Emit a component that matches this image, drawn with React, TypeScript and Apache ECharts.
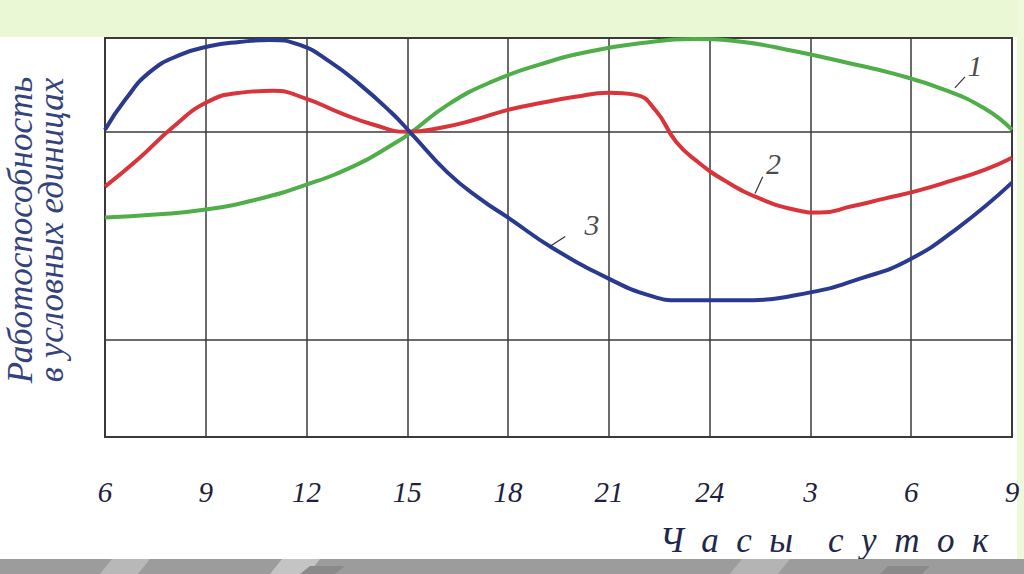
import React, { useEffect, useRef } from "react";
import * as echarts from "echarts";

// hours (6 .. 33 = 9 next day), values in conventional units
const hourTicks = [6, 9, 12, 15, 18, 21, 24, 27, 30, 33];

const curve1Green: [number, number][] = [
  [6, 2.2], [7.5, 2.23], [9, 2.28], [10.5, 2.38], [12, 2.53], [13.5, 2.73],
  [14.5, 2.92], [15.1, 3.05], [16.2, 3.33], [17.5, 3.56], [19, 3.74], [20.5, 3.87],
  [22, 3.95], [23.5, 3.99], [25, 3.96], [26.5, 3.87], [28, 3.76], [29.5, 3.64],
  [31, 3.48], [32.2, 3.29], [33, 3.08],
];

const curve2Red: [number, number][] = [
  [6, 2.51], [7, 2.79], [8, 3.1], [9, 3.35], [10, 3.45], [11, 3.47], [12, 3.39],
  [13, 3.25], [14, 3.13], [15, 3.06], [16, 3.1], [17, 3.18], [18, 3.28], [19, 3.35],
  [20, 3.41], [21, 3.45], [21.8, 3.43], [22.4, 3.27], [23, 2.96], [23.6, 2.77],
  [24.5, 2.56], [25.5, 2.39], [26.5, 2.28], [27.3, 2.25], [28.2, 2.31], [29.2, 2.39],
  [30.2, 2.47], [31.2, 2.57], [32.2, 2.68], [33, 2.8],
];

const curve3Blue: [number, number][] = [
  [6, 3.08], [6.6, 3.38], [7.34, 3.66], [8.23, 3.83], [9.13, 3.92], [10, 3.96],
  [10.9, 3.98], [11.8, 3.93], [12.7, 3.76], [13.6, 3.53], [14.5, 3.26], [15.1, 3.05],
  [16.2, 2.65], [17.2, 2.38], [18, 2.2], [19.3, 1.9], [21.1, 1.57], [22.2, 1.42],
  [23.1, 1.37], [24.9, 1.37], [27, 1.45], [28.5, 1.59], [29.9, 1.77], [31.4, 2.1],
  [33, 2.55],
];

const yGridLines = [0.97, 3.06];

// curve number labels: leader line from -> to, text at
const curveLabels: { text: string; from: [number, number]; to: [number, number]; at: [number, number] }[] = [
  { text: "1", from: [31.3, 3.5], to: [31.6, 3.61], at: [31.9, 3.72] },
  { text: "2", from: [25.35, 2.44], to: [25.58, 2.61], at: [25.9, 2.74] },
  { text: "3", from: [19.24, 1.91], to: [19.7, 2.01], at: [20.5, 2.13] },
];

const yTitle = ["Работоспособность", "в условных единицах"];
const xTitle = "Ч  а  с  ы    с  у  т  о  к";

const GREEN = "#4fae48";
const RED = "#d9343a";
const BLUE = "#2a3a8e";
const GRID = "#3a3a3a";
const SERIF = "'Liberation Serif', 'DejaVu Serif', serif";

export default function App() {
  const ref = useRef<HTMLDivElement>(null);
  useEffect(() => {
    if (!ref.current) return;
    const chart = echarts.init(ref.current, undefined, { renderer: "svg" });
    const line = (name: string, data: [number, number][], color: string) => ({
      name,
      type: "line",
      data,
      smooth: 0.5,
      symbol: "none",
      lineStyle: { color, width: 4 },
      z: 3,
    });
    chart.setOption({
      animation: false,
      backgroundColor: "#ffffff",
      grid: {
        left: 105,
        right: 12,
        top: 38,
        bottom: 137,
        show: true,
        borderColor: GRID,
        borderWidth: 2,
        backgroundColor: "transparent",
      },
      xAxis: {
        type: "value",
        min: 6,
        max: 33,
        interval: 3,
        axisLine: { show: false },
        axisTick: { show: false },
        splitLine: { show: true, lineStyle: { color: GRID, width: 1.5 } },
        axisLabel: {
          margin: 40,
          fontFamily: SERIF,
          fontStyle: "italic",
          fontSize: 29,
          color: "#1e2040",
          formatter: (v: number) => String(v > 24 ? v - 24 : v),
        },
      },
      yAxis: {
        type: "value",
        min: 0,
        max: 4,
        axisLine: { show: false },
        axisTick: { show: false },
        axisLabel: { show: false },
        splitLine: { show: false },
      },
      graphic: [
        { type: "rect", shape: { x: 0, y: 0, width: 1024, height: 37 }, style: { fill: "#ebf8d6" }, z: -1 },
        { type: "rect", shape: { x: 1017, y: 0, width: 7, height: 560 }, style: { fill: "#eef9dc" }, z: -1 },
        { type: "rect", shape: { x: 0, y: 559, width: 1024, height: 15 }, style: { fill: "#9c9c9c" }, z: 10 },
        { type: "polygon", shape: { points: [[100, 574], [112, 559], [150, 559], [138, 574]] }, style: { fill: "#b8b8b8" }, z: 11 },
        { type: "polygon", shape: { points: [[270, 574], [282, 559], [320, 559], [308, 574]] }, style: { fill: "#c4c4c4" }, z: 11 },
        { type: "polygon", shape: { points: [[300, 574], [310, 566], [345, 566], [335, 574]] }, style: { fill: "#8a8a8a" }, z: 11 },
        { type: "polygon", shape: { points: [[730, 574], [742, 559], [790, 559], [778, 574]] }, style: { fill: "#b4b4b4" }, z: 11 },
        { type: "polygon", shape: { points: [[880, 574], [888, 566], [930, 566], [922, 574]] }, style: { fill: "#8a8a8a" }, z: 11 },
        {
          type: "text",
          x: 20,
          y: 230,
          rotation: Math.PI / 2,
          style: {
            text: yTitle[0],
            font: `italic 35px ${SERIF}`,
            fill: "#34427e",
            align: "center",
            verticalAlign: "middle",
          },
        },
        {
          type: "text",
          x: 51,
          y: 230,
          rotation: Math.PI / 2,
          style: {
            text: yTitle[1],
            font: `italic 35px ${SERIF}`,
            fill: "#34427e",
            align: "center",
            verticalAlign: "middle",
          },
        },
        {
          type: "text",
          x: 824,
          y: 540,
          style: {
            text: xTitle,
            font: `italic 35px ${SERIF}`,
            fill: "#22274a",
            align: "center",
            verticalAlign: "middle",
          },
        },
      ],
      series: [
        {
          ...line("1", curve1Green, GREEN),
          markLine: {
            silent: true,
            symbol: "none",
            label: { show: false },
            lineStyle: { color: GRID, width: 1.5, type: "solid" },
            data: yGridLines.map((v) => ({ yAxis: v })),
            z: 1,
          },
        },
        line("2", curve2Red, RED),
        line("3", curve3Blue, BLUE),
        {
          name: "labels",
          type: "scatter",
          symbolSize: 0,
          data: curveLabels.map((c) => c.at),
          label: {
            show: true,
            position: "inside",
            fontFamily: SERIF,
            fontStyle: "italic",
            fontSize: 30,
            color: "#1a1a1a",
            formatter: (p: any) => curveLabels[p.dataIndex].text,
          },
          markLine: {
            silent: true,
            symbol: "none",
            label: { show: false },
            lineStyle: { color: "#333", width: 1.2, type: "solid" },
            data: curveLabels.map((c) => [{ coord: c.from }, { coord: c.to }]),
          },
          z: 4,
        },
      ],
    });
    return () => chart.dispose();
  }, []);
  return (
    <div
      ref={ref}
      style={{ position: "absolute", left: 0, top: 0, width: 1024, height: 574 }}
    />
  );
}
